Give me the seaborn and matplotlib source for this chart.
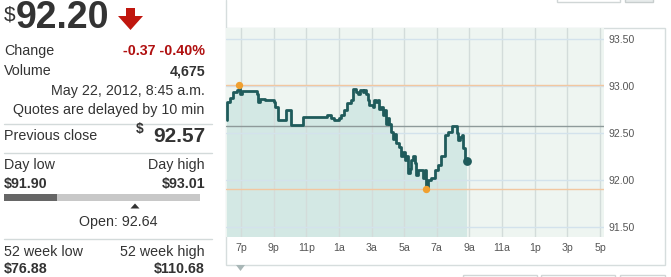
import matplotlib
matplotlib.use("Agg")
import matplotlib.pyplot as plt
import seaborn as sns
import pandas as pd
from matplotlib.patches import Rectangle, Polygon

# ---- data (hours after 6 p.m., price) ----
hours = [0.115, 0.156, 0.321, 0.527, 0.733, 0.897, 0.938, 1.041, 1.247, 1.864,
         1.967, 2.070, 2.173, 2.481, 2.996, 3.099, 3.243, 3.716, 3.778, 4.025,
         4.086, 4.745, 4.807, 4.951, 5.877, 6.288, 6.494, 6.700, 7.008, 7.111,
         7.317, 7.523, 7.728, 7.893, 8.037, 8.181, 8.305, 8.449, 8.551, 8.654,
         8.757, 8.860, 9.066, 9.169, 9.272, 9.374, 9.477, 9.580, 9.683, 9.786,
         9.889, 9.992, 10.095, 10.198, 10.300, 10.403, 10.506, 10.712, 10.815, 10.918,
         11.021, 11.123, 11.226, 11.329, 11.432, 11.535, 11.638, 11.741, 11.844, 12.049,
         12.152, 12.255, 12.358, 12.461, 12.667, 12.872, 13.078, 13.284, 13.490, 13.695,
         13.901, 14.107, 14.210, 14.313, 14.416, 14.519, 14.621, 14.724, 14.830]
prices = [92.64, 92.835, 92.87, 92.94, 92.96, 93.01, 92.92, 92.95, 92.95, 92.95,
          92.92, 92.835, 92.86, 92.85, 92.835, 92.78, 92.64, 92.64, 92.74, 92.74,
          92.59, 92.59, 92.675, 92.67, 92.67, 92.69, 92.66, 92.64, 92.66, 92.69,
          92.75, 92.82, 92.85, 92.97, 92.94, 92.92, 92.96, 92.94, 92.96, 92.92,
          92.85, 92.80, 92.78, 92.85, 92.835, 92.85, 92.76, 92.78, 92.69, 92.75,
          92.60, 92.66, 92.60, 92.515, 92.44, 92.49, 92.39, 92.355, 92.25, 92.30,
          92.21, 92.25, 92.07, 92.12, 92.21, 92.25, 92.18, 92.05, 92.11, 92.11,
          92.02, 92.11, 91.90, 92.00, 92.02, 92.11, 92.16, 92.25, 92.48, 92.515,
          92.57, 92.57, 92.50, 92.43, 92.46, 92.48, 92.34, 92.21, 92.20]
tick_hours = [1, 3, 5, 7, 9, 11, 13, 15, 17, 19, 21, 23]
tick_labels = ["7p", "9p", "11p", "1a", "3a", "5a", "7a", "9a", "11a", "1p", "3p", "5p"]
price_ticks = [91.50, 92.00, 92.50, 93.00, 93.50]
prev_close = 92.57
day_high = 93.01
day_low = 91.90
high_hour = 0.897
low_hour = 12.358
last_price = 92.20
open_price = 92.64
week52_low = 76.88
week52_high = 110.68
change = -0.37
change_pct = -0.40
volume = 4675

df = pd.DataFrame({"hour": hours, "price": prices})

sns.set_theme(style="white")
plt.rcParams['font.family'] = ['Liberation Sans', 'DejaVu Sans']

W, H = 671, 277
fig = plt.figure(figsize=(W / 100, H / 100), dpi=100)
fig.patch.set_facecolor("white")

bg = fig.add_axes([0, 0, 1, 1])
bg.set_xlim(0, W)
bg.set_ylim(H, 0)
bg.axis("off")

# ---- chart widget frame ----
frame_c = "#D6DDDD"
bg.add_patch(Rectangle((226, 28), 665 - 226, 265 - 28, fill=False, ec=frame_c, lw=1))
bg.plot([226, 226], [0, 28], color=frame_c, lw=1)
bg.add_patch(Rectangle((557, -5), 63, 7, fill=False, ec="#D0D6D6", lw=1))
bg.add_patch(Rectangle((625, -5), 28, 7, fc="#E8ECEC", ec="#C8CECE", lw=1))
bg.add_patch(Rectangle((463, 275), 74, 8, fill=False, ec="#D0D6D6", lw=1))
bg.add_patch(Rectangle((541, 275), 74, 8, fill=False, ec="#D0D6D6", lw=1))
bg.add_patch(Rectangle((620, 275), 45, 8, fill=False, ec="#D0D6D6", lw=1))
bg.add_patch(Polygon([[236, 265], [245, 265], [240.5, 271]], closed=True,
                     fc="#A9B7B7", ec="none"))

# ---- left quote panel ----
tc = "#333333"
fs = 10.3
bg.text(4, 6, "$", fontsize=15, color=tc, va="top", ha="left")
bg.text(16, 18, f"{last_price:.2f}", fontsize=27, fontweight="bold", color=tc,
        va="center", ha="left")
red = "#C0160E"
bg.add_patch(Polygon([[126, 8], [135, 8], [135, 16], [143, 16], [130.5, 30],
                      [118, 16], [126, 16]], closed=True, fc=red, ec="none"))

bg.text(4, 51, "Change", fontsize=fs, color=tc, va="center")
bg.text(205, 51, f"{change:.2f} {change_pct:.2f}%", fontsize=fs, color="#B01010",
        fontweight="bold", va="center", ha="right")
bg.text(4, 71, "Volume", fontsize=fs, color=tc, va="center")
bg.text(205, 71, f"{volume:,}", fontsize=fs, color=tc, fontweight="bold",
        va="center", ha="right")
bg.text(205, 91, "May 22, 2012, 8:45 a.m.", fontsize=fs, color=tc, va="center", ha="right")
bg.text(204, 110, "Quotes are delayed by 10 min", fontsize=fs, color=tc,
        va="center", ha="right")
sep_c = "#D3DADA"
for yy in (124, 153, 239):
    bg.plot([4, 212], [yy, yy], color=sep_c, lw=1)

bg.text(4, 136, "Previous close", fontsize=fs, color=tc, va="center")
bg.text(205, 137, f"{prev_close:.2f}", fontsize=15, color=tc, fontweight="bold",
        va="center", ha="right")
bg.text(144, 129, "$", fontsize=10, color=tc, fontweight="bold", va="center", ha="right")

bg.text(4, 165, "Day low", fontsize=fs, color=tc, va="center")
bg.text(205, 165, "Day high", fontsize=fs, color=tc, va="center", ha="right")
bg.text(4, 184, f"${day_low:.2f}", fontsize=fs, color=tc, fontweight="bold", va="center")
bg.text(205, 184, f"${day_high:.2f}", fontsize=fs, color=tc, fontweight="bold",
        va="center", ha="right")
bg.add_patch(Rectangle((57, 194), 143, 7, fc="#C8C8C8", ec="none"))
bg.add_patch(Rectangle((4, 194), 53, 7, fc="#666666", ec="none"))
bg.add_patch(Polygon([[130.5, 208.5], [139.5, 208.5], [135, 203.5]], closed=True,
                     fc="#333333", ec="none"))
bg.text(118, 222, f"Open: {open_price:.2f}", fontsize=fs, color=tc, va="center", ha="center")

bg.text(4, 252, "52 week low", fontsize=fs, color=tc, va="center")
bg.text(205, 252, "52 week high", fontsize=fs, color=tc, va="center", ha="right")
bg.text(4, 269.5, f"${week52_low:.2f}", fontsize=fs, color=tc, fontweight="bold", va="center")
bg.text(205, 269.5, f"${week52_high:.2f}", fontsize=fs, color=tc, fontweight="bold",
        va="center", ha="right")

# ---- price chart ----
ax = fig.add_axes([226 / W, (H - 237) / H, (604 - 226) / W, (237 - 28) / H])
ax.set_facecolor("#EEF5F1")
ymin, ymax = 91.39, 93.62
ax.set_xlim(0.081, 23.245)
ax.set_ylim(ymin, ymax)

ax.fill_between(df["hour"], df["price"], ymin, step="post", color="#D3E8E4", lw=0, zorder=1)
for h in tick_hours:
    ax.axvline(h, color="#D3DCDA", lw=1, zorder=2)
for p in price_ticks:
    ax.axhline(p, color="#D3E2EC", lw=1, zorder=2)
ax.axhline(day_high, color="#F2C7A0", lw=1, zorder=3)
ax.axhline(day_low, color="#F2C7A0", lw=1, zorder=3)
ax.axhline(prev_close, color="#8E9A9A", lw=1, zorder=3)

sns.lineplot(data=df, x="hour", y="price", ax=ax, color="#1F5B5B", lw=2.0,
             drawstyle="steps-post", zorder=5, estimator=None)
ax.scatter([high_hour, low_hour], [day_high, day_low], s=28, color="#F0A030",
           zorder=6, linewidths=0)
ax.scatter([hours[-1]], [prices[-1]], s=40, color="#1F5B5B", zorder=6, linewidths=0)

ax.set_xticks(tick_hours)
ax.set_xticklabels(tick_labels)
ax.set_yticks(price_ticks)
ax.set_yticklabels([f"{p:.2f}" for p in price_ticks])
ax.yaxis.tick_right()
ax.tick_params(axis="y", length=0, pad=3, labelsize=7.6, labelcolor="#555555")
ax.tick_params(axis="x", length=0, pad=4.5, labelsize=7.6, labelcolor="#555555")
ax.set_xlabel("")
ax.set_ylabel("")
for s in ax.spines.values():
    s.set_visible(False)

fig.savefig("out.png", dpi=100, facecolor="white")
